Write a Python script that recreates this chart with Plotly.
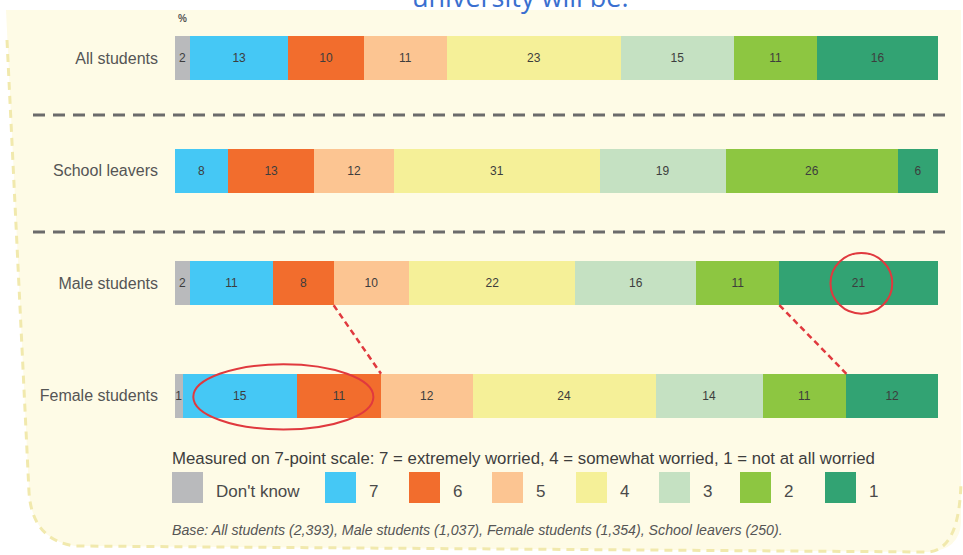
import plotly.graph_objects as go

# Survey groups (rows, top to bottom)
GROUPS = ["All students", "School leavers", "Male students", "Female students"]

# Share of each group (%) per point on the 7-point worry scale
DONT_KNOW = [2, 0, 2, 1]
SCORE_7 = [13, 8, 11, 15]
SCORE_6 = [10, 13, 8, 11]
SCORE_5 = [11, 12, 10, 12]
SCORE_4 = [23, 31, 22, 24]
SCORE_3 = [15, 19, 16, 14]
SCORE_2 = [11, 26, 11, 11]
SCORE_1 = [16, 6, 21, 12]

SERIES = [DONT_KNOW, SCORE_7, SCORE_6, SCORE_5, SCORE_4, SCORE_3, SCORE_2, SCORE_1]
SERIES_NAMES = ["Don't know", "7", "6", "5", "4", "3", "2", "1"]
COLORS = ["#b9babc", "#45c8f5", "#f26d2d", "#fcc592",
          "#f5f098", "#c5e1c2", "#8dc641", "#32a373"]

SCALE_NOTE = ("Measured on 7-point scale: 7 = extremely worried, "
              "4 = somewhat worried, 1 = not at all worried")
BASE_NOTE = ("Base: All students (2,393), Male students (1,037), "
             "Female students (1,354), School leavers (250).")

W, H = 963, 555
FONT = "Liberation Sans, Arial, sans-serif"


def px(x):
    return x / W


def py(y):
    return 1 - y / H


fig = go.Figure()

for name, vals, color in zip(SERIES_NAMES, SERIES, COLORS):
    fig.add_trace(go.Bar(
        name=name,
        y=GROUPS,
        x=vals,
        orientation="h",
        width=0.39,
        marker=dict(color=color, line=dict(width=0)),
        text=[str(v) if v else "" for v in vals],
        textposition="inside",
        insidetextanchor="middle",
        constraintext="none",
        textfont=dict(size=12, color="#3d3d3d", family=FONT),
        showlegend=False,
    ))

shapes = []

# cream card behind everything
shapes.append(dict(
    type="path", xref="paper", yref="paper", layer="below",
    path=(f"M {px(6)},{py(10)} L {px(961)},{py(10)} L {px(961)},{py(522)} "
          f"Q {px(960)},{py(550)} {px(928)},{py(552)} L {px(75)},{py(546)} "
          f"Q {px(32)},{py(540)} {px(29)},{py(492)} Z"),
    fillcolor="#fefbe6", line=dict(width=0),
))
# dashed card edge (left, bottom, bottom-right)
shapes.append(dict(
    type="path", xref="paper", yref="paper", layer="below",
    path=(f"M {px(7)},{py(40)} L {px(29)},{py(492)} "
          f"Q {px(32)},{py(540)} {px(75)},{py(546)} L {px(928)},{py(552)} "
          f"Q {px(960)},{py(550)} {px(961)},{py(480)}"),
    fillcolor="rgba(0,0,0,0)",
    line=dict(color="#f1e9ad", width=3, dash="8px,6px"),
))

# grey dashed separators between the groups
for ysep in (115, 232):
    shapes.append(dict(
        type="line", xref="paper", yref="paper",
        x0=px(33), x1=px(945), y0=py(ysep), y1=py(ysep),
        line=dict(color="#6b6b6b", width=3, dash="12px,8px"),
    ))


# red dashed connectors Male -> Female, computed from the data
def edge(row, upto):
    total = sum(s[row] for s in SERIES)
    return sum(s[row] for s in SERIES[:upto]) / total * 100


half = 0.39 / 2
for upto in (3, 7):
    shapes.append(dict(
        type="line", xref="x", yref="y",
        x0=edge(2, upto), y0=2 + half, x1=edge(3, upto), y1=3 - half,
        line=dict(color="#e0393e", width=2.5, dash="6px,4px"),
    ))

# red highlight ellipses
shapes.append(dict(type="circle", xref="x", yref="y",
                   x0=edge(2, 7) + 6.7, x1=edge(2, 7) + 14.8, y0=1.73, y1=2.27,
                   line=dict(color="#e0393e", width=2)))
shapes.append(dict(type="circle", xref="x", yref="y",
                   x0=2.4, x1=26.0, y0=2.72, y1=3.3,
                   line=dict(color="#e0393e", width=2)))

annotations = []

# legend squares + labels
LEGEND_X = [172, 325, 409, 492, 576, 659, 740, 825]
for lx, name, color in zip(LEGEND_X, SERIES_NAMES, COLORS):
    shapes.append(dict(
        type="rect", xref="paper", yref="paper",
        x0=px(lx), x1=px(lx + 31), y0=py(503), y1=py(472),
        fillcolor=color, line=dict(width=0),
    ))
    annotations.append(dict(
        xref="paper", yref="paper", x=px(lx + 42), y=py(491),
        xanchor="left", yanchor="middle", text=name, showarrow=False,
        font=dict(size=17, color="#4a4a4a", family=FONT),
    ))

annotations += [
    dict(xref="paper", yref="paper", x=px(170), y=py(458), xanchor="left",
         yanchor="middle", text=SCALE_NOTE, showarrow=False,
         font=dict(size=16.8, color="#3d3d3d", family=FONT)),
    dict(xref="paper", yref="paper", x=px(170), y=py(530), xanchor="left",
         yanchor="middle", text=f"<i>{BASE_NOTE}</i>", showarrow=False,
         font=dict(size=14.2, color="#555555", family=FONT)),
    dict(xref="paper", yref="paper", x=px(176), y=py(18), xanchor="left",
         yanchor="middle", text="<b>%</b>", showarrow=False,
         font=dict(size=10, color="#555555", family=FONT)),
    # heading of the slide, mostly cropped off in the source
    dict(xref="paper", yref="paper", x=px(520), y=py(17), xanchor="center",
         yanchor="bottom", text="university will be:", showarrow=False,
         font=dict(size=27, color="#3a6fd0", family="Open Sans, sans-serif")),
]

fig.update_layout(
    width=W, height=H,
    margin=dict(l=0, r=0, t=0, b=0),
    barmode="stack",
    barnorm="percent",
    paper_bgcolor="white",
    plot_bgcolor="rgba(0,0,0,0)",
    shapes=shapes,
    annotations=annotations,
    xaxis=dict(domain=[px(175), px(938)], range=[0, 100], visible=False,
               fixedrange=True),
    yaxis=dict(domain=[py(452), py(2)], type="category", autorange="reversed",
               showgrid=False, zeroline=False, showline=False, ticks="",
               ticklabelstandoff=16,
               tickfont=dict(size=16, color="#555555", family=FONT)),
)

# drop the default page margin so the figure fills the window
fig.write_html("out.html", config={"displayModeBar": False},
               post_script="document.body.style.margin = '0';")
